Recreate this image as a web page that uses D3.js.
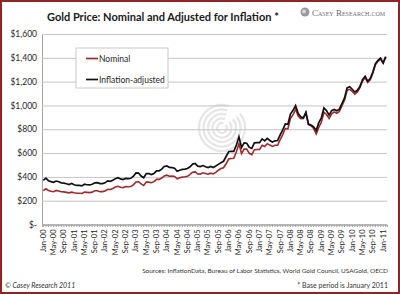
<!DOCTYPE html>
<html>
<head>
<meta charset="utf-8">
<script src="https://cdn.jsdelivr.net/npm/d3@7"></script>
<style>
  body { margin: 0; background: #fff; }
  svg { display: block; font-family: Lato, "Open Sans", sans-serif; }
</style>
</head>
<body>
<script>
let width = 400
let height = 294
let plot = { left: 42, right: 387, top: 34, bottom: 224.5 }

// categories: Jan-00 .. Feb-11
let monthNames = ['Jan', 'Feb', 'Mar', 'Apr', 'May', 'Jun', 'Jul', 'Aug', 'Sep', 'Oct', 'Nov', 'Dec']
let years = ['00', '01', '02', '03', '04', '05', '06', '07', '08', '09', '10', '11']
let months = []
years.forEach(yr => monthNames.forEach(m => months.push(m + '-' + yr)))
months = months.slice(0, 134)

let nominal = [
  285, 300, 286, 280, 275, 286, 282, 275, 274, 270, 266, 272,
  266, 262, 263, 261, 272, 270, 268, 272, 283, 283, 276, 276,
  282, 296, 294, 303, 315, 321, 313, 310, 319, 317, 319, 333,
  357, 359, 341, 328, 356, 356, 351, 360, 379, 379, 390, 408,
  414, 405, 407, 403, 384, 392, 398, 401, 405, 421, 439, 442,
  424, 423, 434, 429, 422, 431, 425, 438, 456, 470, 477, 510,
  550, 555, 557, 611, 677, 596, 634, 633, 598, 586, 628, 630,
  631, 665, 655, 679, 667, 656, 665, 665, 713, 755, 806, 803,
  890, 922, 968, 910, 889, 890, 940, 839, 830, 807, 761, 816,
  859, 943, 924, 890, 929, 946, 934, 949, 997, 1043, 1127, 1135,
  1118, 1095, 1113, 1149, 1205, 1233, 1193, 1216, 1271, 1342, 1370, 1391,
  1356, 1410
]

let adjusted = [
  371, 389, 368, 360, 354, 365, 359, 350, 347, 342, 336, 344,
  334, 328, 329, 324, 338, 334, 332, 338, 350, 351, 343, 344,
  350, 366, 362, 371, 385, 393, 383, 378, 388, 385, 388, 406,
  433, 432, 407, 393, 427, 427, 420, 429, 451, 451, 465, 487,
  492, 479, 478, 472, 447, 456, 463, 465, 470, 485, 507, 512,
  490, 486, 495, 485, 478, 488, 478, 491, 505, 519, 531, 571,
  611, 615, 614, 667, 736, 647, 686, 683, 649, 639, 686, 687,
  687, 719, 702, 724, 706, 693, 703, 705, 753, 795, 845, 842,
  928, 959, 999, 933, 904, 895, 941, 843, 835, 820, 789, 855,
  896, 979, 957, 919, 956, 966, 955, 969, 1016, 1063, 1147, 1157,
  1136, 1113, 1127, 1160, 1217, 1245, 1205, 1226, 1281, 1351, 1379, 1397,
  1356, 1408
]

let yTicks = [0, 200, 400, 600, 800, 1000, 1200, 1400, 1600]
let xTickLabels = months.filter((m, i) => i % 4 === 0)
let seriesNames = ['Nominal', 'Inflation-adjusted']
let seriesColors = ['#9e2a2b', '#111111']

const svg = d3.select('body')
  .append('svg')
  .attr('width', width)
  .attr('height', height)

const x = d3.scaleBand()
  .domain(months)
  .range([plot.left, plot.right])

const y = d3.scaleLinear()
  .domain([0, 1600])
  .range([plot.bottom, plot.top])

// shrink a text until it fits a width
function fit(sel, w) {
  let len = sel.node().getComputedTextLength()
  if (len > w) {
    let fs = parseFloat(sel.attr('font-size'))
    sel.attr('font-size', fs * w / len)
  }
  return sel
}

// watermark rings
const wm = svg.append('g')
  .attr('transform', 'translate(222,128)')
  .attr('fill', 'none')
  .attr('stroke', '#e6e6e6')
  .attr('stroke-width', 2.2)
;[5, 9.5, 14, 18.5, 23].forEach(r => {
  wm.append('path')
    .attr('d', d3.arc()({ innerRadius: r, outerRadius: r, startAngle: 0.9, endAngle: 2 * Math.PI + 0.3 }))
})

// y axis + gridlines
const yAxis = d3.axisLeft(y)
  .tickValues(yTicks)
  .tickSize(-(plot.right - plot.left))
  .tickPadding(5)
  .tickFormat(d => d === 0 ? '$-' : d3.format('$,')(d))

svg.append('g')
  .attr('transform', `translate(${plot.left},0)`)
  .call(yAxis)
  .call(g => g.select('.domain').attr('stroke', '#a6a6a6'))
  .call(g => g.selectAll('.tick line').attr('stroke', '#c4c4c4'))
  .call(g => g.selectAll('.tick text')
    .attr('font-size', 8.5)
    .attr('fill', '#262626')
    .attr('font-family', 'Lato, sans-serif'))

// x axis: monthly ticks, labels every 4 months
const xAxis = d3.axisBottom(x)
  .tickSizeOuter(0)
  .tickSize(2.5)
  .tickFormat(d => xTickLabels.includes(d) ? d : '')

svg.append('g')
  .attr('transform', `translate(0,${plot.bottom})`)
  .call(xAxis)
  .call(g => g.select('.domain').attr('stroke', '#a6a6a6'))
  .call(g => g.selectAll('.tick line').attr('stroke', '#a6a6a6'))
  .call(g => g.selectAll('.tick text')
    .attr('font-size', 7.5)
    .attr('fill', '#262626')
    .attr('font-family', 'Lato, sans-serif')
    .attr('text-anchor', 'end')
    .attr('transform', 'rotate(-90)')
    .attr('x', -5)
    .attr('y', 0)
    .attr('dy', '0.32em'))

// lines
const line = d3.line()
  .x((d, i) => x(months[i]) + x.bandwidth() / 2)
  .y(d => y(d))

svg.append('path')
  .datum(nominal)
  .attr('d', line)
  .attr('fill', 'none')
  .attr('stroke', seriesColors[0])
  .attr('stroke-width', 1.6)

svg.append('path')
  .datum(adjusted)
  .attr('d', line)
  .attr('fill', 'none')
  .attr('stroke', seriesColors[1])
  .attr('stroke-width', 1.7)

// legend
const legend = svg.append('g')
  .attr('transform', 'translate(76,48)')

legend.append('rect')
  .attr('width', 92)
  .attr('height', 40)
  .attr('fill', '#fff')
  .attr('stroke', '#c8c8c8')

seriesNames.forEach((name, i) => {
  let ly = 10.5 + i * 21
  legend.append('line')
    .attr('x1', 10).attr('x2', 22)
    .attr('y1', ly).attr('y2', ly)
    .attr('stroke', seriesColors[i])
    .attr('stroke-width', 1.7)
  legend.append('text')
    .attr('x', 23)
    .attr('y', ly + 3)
    .attr('font-size', 8.5)
    .attr('fill', '#262626')
    .text(name)
})

// title
fit(svg.append('text')
  .attr('x', 47)
  .attr('y', 21)
  .attr('font-size', 12.5)
  .attr('font-weight', 'bold')
  .attr('fill', '#1a1a1a')
  .text('Gold Price: Nominal and Adjusted for Inflation *'), 232)

// logo
const logo = svg.append('g')
  .attr('transform', 'translate(300,7)')
logo.append('circle')
  .attr('cx', 5).attr('cy', 5).attr('r', 4.5)
  .attr('fill', '#9a9a9a')
logo.append('circle')
  .attr('cx', 4).attr('cy', 4.5).attr('r', 2)
  .attr('fill', '#d8d8d8')
fit(logo.append('text')
  .attr('x', 12)
  .attr('y', 8.5)
  .attr('font-family', '"Liberation Serif", serif')
  .attr('font-size', 9)
  .attr('font-variant', 'small-caps')
  .attr('fill', '#6e6e6e')
  .text('Casey Research.com'), 78)

// notes
fit(svg.append('text')
  .attr('x', 388)
  .attr('y', 273)
  .attr('text-anchor', 'end')
  .attr('font-size', 7)
  .attr('fill', '#333')
  .text('Sources: InflationData, Bureau of Labor Statistics, World Gold Council, USAGold, OECD'), 246)

svg.append('text')
  .attr('x', 5)
  .attr('y', 288)
  .attr('font-size', 7)
  .attr('font-style', 'italic')
  .attr('fill', '#333')
  .text('© Casey Research 2011')

svg.append('text')
  .attr('x', 388)
  .attr('y', 288)
  .attr('text-anchor', 'end')
  .attr('font-size', 7)
  .attr('fill', '#333')
  .text('* Base period is January 2011')

// frame
svg.append('rect')
  .attr('x', 1)
  .attr('y', 1)
  .attr('width', width - 2)
  .attr('height', height - 2)
  .attr('fill', 'none')
  .attr('stroke', '#8e2424')
  .attr('stroke-width', 2)
</script>
</body>
</html>
